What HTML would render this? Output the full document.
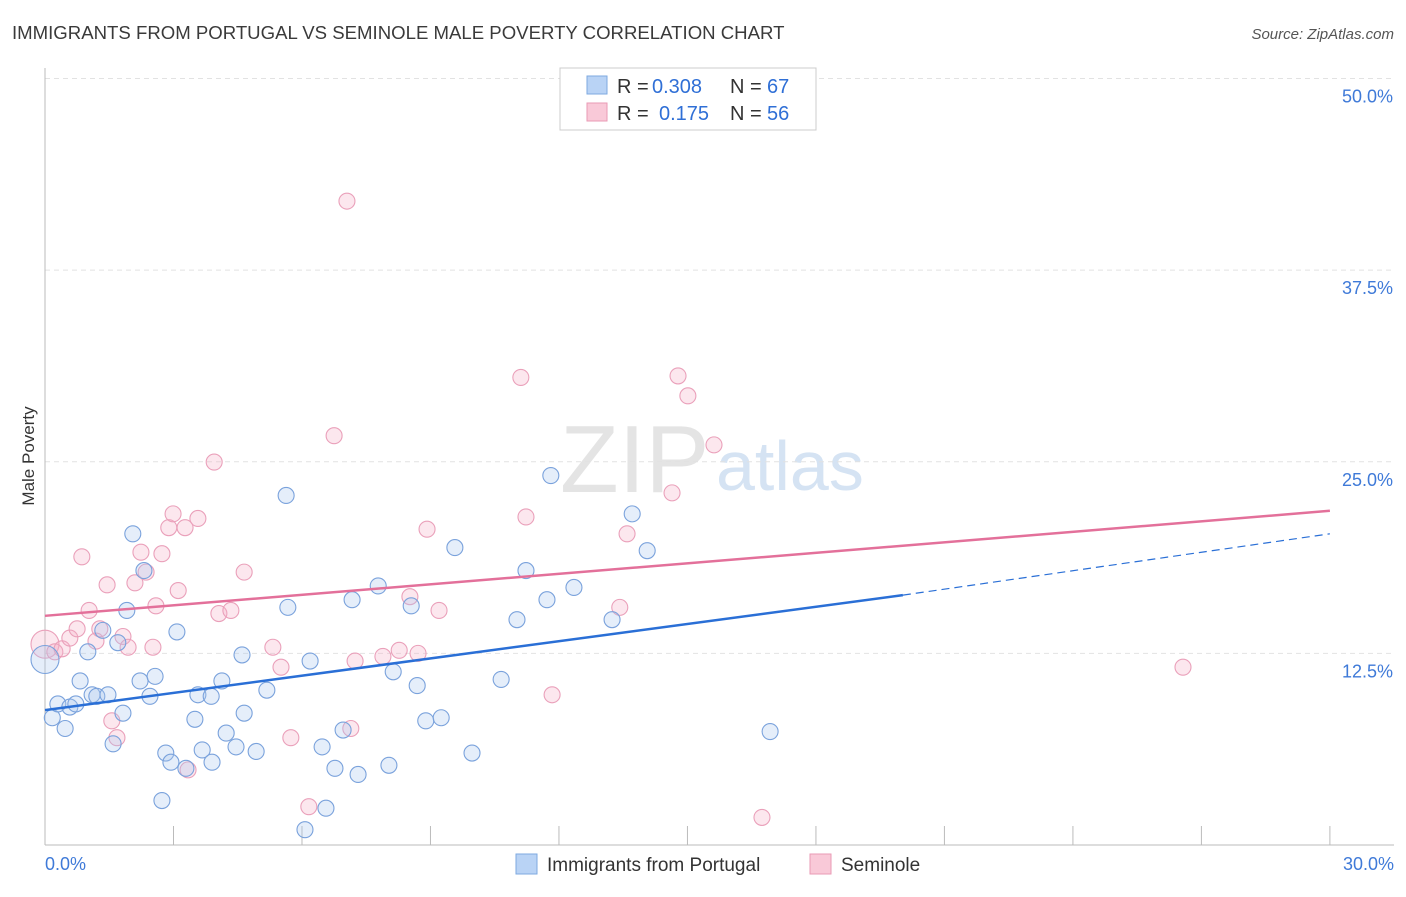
<!DOCTYPE html>
<html><head><meta charset="utf-8"><style>
body{margin:0;background:#fff;font-family:"Liberation Sans",sans-serif}
svg text{font-family:"Liberation Sans",sans-serif}
</style></head><body>
<svg id="c" width="1406" height="892">
<text x="12" y="39" font-size="18.6" fill="#3a3a3a">IMMIGRANTS FROM PORTUGAL VS SEMINOLE MALE POVERTY CORRELATION CHART</text>
<text x="1394" y="39" font-size="15" fill="#555" text-anchor="end" font-style="italic">Source: ZipAtlas.com</text>
<text x="34" y="456" font-size="17" fill="#333" text-anchor="middle" transform="rotate(-90 34 456)">Male Poverty</text>
<text x="560" y="492" font-size="96" fill="#e4e4e4" font-family="Liberation Serif">ZIP</text>
<text x="716" y="490" font-size="70" fill="#d5e3f3">atlas</text>
<g id="grid"></g><g id="pts"></g><g id="lines"></g>
<g>
<rect x="560" y="68" width="256" height="62" fill="#fff" stroke="#ccc"/>
<rect x="587" y="76" width="20" height="18" fill="#b9d3f5" stroke="#7ea9e0"/>
<text x="617" y="93" font-size="20" fill="#333">R =</text>
<text x="652" y="93" font-size="20" fill="#2f6fd6">0.308</text>
<text x="730" y="93" font-size="20" fill="#333">N =</text>
<text x="767" y="93" font-size="20" fill="#2f6fd6">67</text>
<rect x="587" y="103" width="20" height="18" fill="#f9c9d8" stroke="#e99ab5"/>
<text x="617" y="120" font-size="20" fill="#333">R =</text>
<text x="659" y="120" font-size="20" fill="#2f6fd6">0.175</text>
<text x="730" y="120" font-size="20" fill="#333">N =</text>
<text x="767" y="120" font-size="20" fill="#2f6fd6">56</text>
</g>
<g>
<rect x="516" y="854" width="21" height="20" fill="#b9d3f5" stroke="#7ea9e0"/>
<text x="547" y="871" font-size="19" fill="#333">Immigrants from Portugal</text>
<rect x="810" y="854" width="21" height="20" fill="#f9c9d8" stroke="#e99ab5"/>
<text x="841" y="871" font-size="19" fill="#333">Seminole</text>
</g>
</svg>
<script>
const yTicks=[12.5,25,37.5,50];
const xTickLabels=["0.0%","30.0%"];
const blueX=[0,0.17,0.3,0.47,0.58,0.72,0.82,1.0,1.1,1.21,1.35,1.47,1.59,1.7,1.82,1.91,2.05,2.22,2.31,2.45,2.57,2.73,2.82,2.94,3.08,3.29,3.5,3.57,3.67,3.88,3.9,4.13,4.23,4.46,4.6,4.65,4.93,5.18,5.63,5.67,6.07,6.19,6.47,6.56,6.77,6.96,7.17,7.31,7.78,8.03,8.13,8.55,8.69,8.89,9.25,9.57,9.97,10.65,11.02,11.23,11.72,11.81,12.35,13.24,13.71,14.06,16.93];
const blueY=[12.1,8.3,9.2,7.6,9.0,9.2,10.7,12.6,9.8,9.7,14.0,9.8,6.6,13.2,8.6,15.3,20.3,10.7,17.9,9.7,11.0,2.9,6.0,5.4,13.9,5.0,8.2,9.8,6.2,9.7,5.4,10.7,7.3,6.4,12.4,8.6,6.1,10.1,22.8,15.5,1.0,12.0,6.4,2.4,5.0,7.5,16.0,4.6,16.9,5.2,11.3,15.6,10.4,8.1,8.3,19.4,6.0,10.8,14.7,17.9,16.0,24.1,16.8,14.7,21.6,19.2,7.4];
const pinkX=[0,0.23,0.4,0.58,0.75,0.86,1.03,1.19,1.28,1.45,1.56,1.68,1.82,1.94,2.1,2.24,2.36,2.52,2.59,2.73,2.89,2.99,3.11,3.27,3.34,3.57,3.95,4.06,4.34,4.65,5.32,5.51,5.74,6.16,6.75,7.05,7.14,7.24,7.89,8.27,8.52,8.71,8.92,9.2,11.11,11.23,11.84,13.42,13.59,14.64,14.78,15.01,15.62,16.74,26.57];
const pinkY=[13.1,12.6,12.8,13.5,14.1,18.8,15.3,13.3,14.1,16.97,8.1,7.0,13.6,12.9,17.1,19.1,17.8,12.9,15.6,19.0,20.7,21.6,16.6,20.7,4.9,21.3,24.98,15.1,15.3,17.8,12.9,11.6,7.0,2.5,26.7,42.0,7.6,12.0,12.3,12.7,16.2,12.5,20.6,15.3,30.5,21.4,9.8,15.5,20.3,22.97,30.6,29.3,26.1,1.8,11.6];
const X=v=>45+v*42.83, Y=v=>845-v*15.33;
const ns="http://www.w3.org/2000/svg";
function mk(t,a,p){const e=document.createElementNS(ns,t);for(const k in a)e.setAttribute(k,a[k]);p.appendChild(e);return e;}
const grid=document.getElementById('grid');
yTicks.forEach(v=>{
 const l=mk('line',{x1:45,x2:1394,y1:Y(v),y2:Y(v),stroke:'#e2e2e2','stroke-dasharray':'5,4'},grid);
 
 
 const t=mk('text',{x:1393,y:Y(v)+24,'font-size':18,fill:'#3f7ad8','text-anchor':'end'},grid);t.textContent=v.toFixed(1)+'%';
 
 
});
mk('line',{x1:45,x2:45,y1:68,y2:845,stroke:'#bbb'},grid);
mk('line',{x1:45,x2:1394,y1:845,y2:845,stroke:'#bbb'},grid);
for(let i=0;i<=10;i++){mk('line',{x1:X(i*3),x2:X(i*3),y1:826,y2:845,stroke:'#bbb'},grid);}
xTickLabels.forEach((s,i)=>{const t=mk('text',{x:i?1394:45,y:870,'font-size':18,fill:'#3f7ad8','text-anchor':i?'end':'start'},grid);t.textContent=s;
 
 });
const pts=document.getElementById('pts');
pinkX.forEach((x,i)=>{const c=mk('circle',{cx:X(x),cy:Y(pinkY[i]),r:i==0?14:8,fill:'rgba(246,176,200,0.3)',stroke:'#eaa0ba','stroke-width':1.1},pts);
 
 });
blueX.forEach((x,i)=>{const c=mk('circle',{cx:X(x),cy:Y(blueY[i]),r:i==0?14:8,fill:'rgba(170,200,240,0.3)',stroke:'#7aa2dc','stroke-width':1.1},pts);
 
 });
const L=document.getElementById('lines');
const bl=mk('line',{x1:X(0),y1:Y(8.8),x2:X(20.03),y2:Y(16.3),stroke:'#2a6fd6','stroke-width':2.5},L);


const bd=mk('line',{x1:X(20.03),y1:Y(16.3),x2:X(30),y2:Y(20.3),stroke:'#2a6fd6','stroke-width':1.2,'stroke-dasharray':'8,5'},L);


const pl=mk('line',{x1:X(0),y1:Y(14.95),x2:X(30),y2:Y(21.8),stroke:'#e3709a','stroke-width':2.5},L);


</script>
</body></html>
